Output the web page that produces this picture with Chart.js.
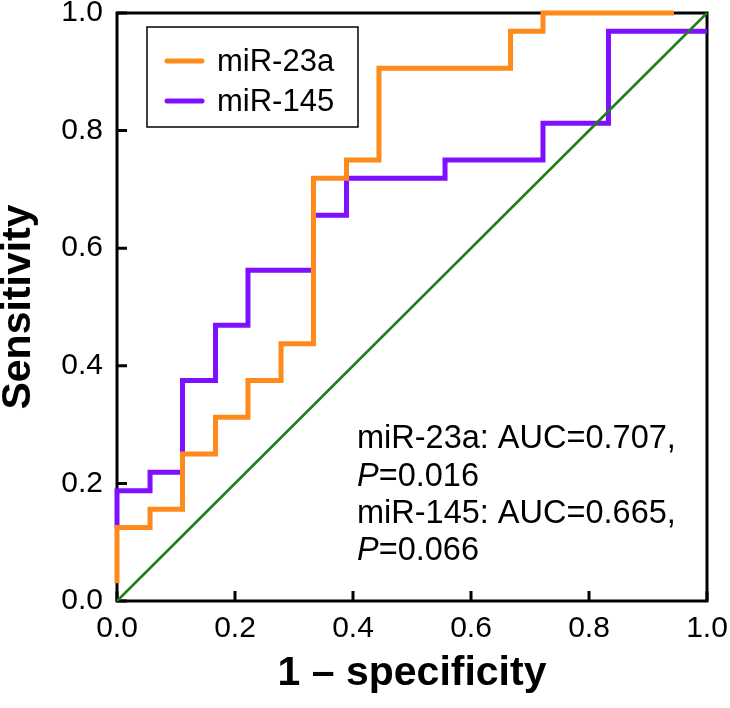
<!DOCTYPE html>
<html>
<head>
<meta charset="utf-8">
<script src="https://cdn.jsdelivr.net/npm/chart.js@4"></script>
<style>
html,body{margin:0;padding:0;background:#fff;}
#wrap{width:730px;height:708px;}
</style>
</head>
<body>
<div id="wrap"><canvas id="c" width="730" height="708"></canvas></div>
<script>
// ---- data ----
const seriesNames = ['miR-23a', 'miR-145'];
const mir23aX = [0, 0, 0.056, 0.056, 0.111, 0.111, 0.167, 0.167, 0.222, 0.222, 0.278, 0.278, 0.333, 0.333, 0.389, 0.389, 0.444, 0.444, 0.667, 0.667, 0.722, 0.722, 0.944];
const mir23aY = [0.03, 0.125, 0.125, 0.156, 0.156, 0.25, 0.25, 0.3125, 0.3125, 0.375, 0.375, 0.4375, 0.4375, 0.719, 0.719, 0.75, 0.75, 0.906, 0.906, 0.969, 0.969, 1.0, 1.0];
const mir145X = [0, 0, 0.056, 0.056, 0.111, 0.111, 0.167, 0.167, 0.222, 0.222, 0.333, 0.333, 0.389, 0.389, 0.556, 0.556, 0.722, 0.722, 0.833, 0.833, 1.0];
const mir145Y = [0.125, 0.1875, 0.1875, 0.219, 0.219, 0.375, 0.375, 0.469, 0.469, 0.5625, 0.5625, 0.656, 0.656, 0.719, 0.719, 0.75, 0.75, 0.8125, 0.8125, 0.969, 0.969];
const refX = [0, 1];
const refY = [0, 1];
const xTickLabels = ['0.0', '0.2', '0.4', '0.6', '0.8', '1.0'];
const yTickLabels = ['0.0', '0.2', '0.4', '0.6', '0.8', '1.0'];
const tickValues = [0, 0.2, 0.4, 0.6, 0.8, 1.0];
const annotationLines = [
  [{t:'miR-23a: AUC=0.707,', i:false}],
  [{t:'P', i:true}, {t:'=0.016', i:false}],
  [{t:'miR-145: AUC=0.665,', i:false}],
  [{t:'P', i:true}, {t:'=0.066', i:false}]
];

const ORANGE = '#ff8a1c';
const PURPLE = '#7f0fff';
const GREEN = '#1f7d1a';
const FONT = '"Liberation Sans", Arial, Helvetica, sans-serif';

const pts = (xs, ys) => xs.map((x, i) => ({x, y: ys[i]}));

const overlay = {
  id: 'overlay',
  beforeDatasetsDraw(chart) {
    const {ctx, chartArea: a, scales} = chart;
    ctx.save();
    ctx.strokeStyle = '#000';
    ctx.lineWidth = 3;
    ctx.strokeRect(a.left, a.top, a.right - a.left, a.bottom - a.top);
    ctx.beginPath();
    tickValues.forEach(v => {
      const x = scales.x.getPixelForValue(v);
      ctx.moveTo(x, a.bottom); ctx.lineTo(x, a.bottom - 10);
      const y = scales.y.getPixelForValue(v);
      ctx.moveTo(a.left, y); ctx.lineTo(a.left + 10, y);
    });
    ctx.stroke();
    ctx.restore();
  },
  afterDatasetsDraw(chart) {
    const {ctx} = chart;
    ctx.save();
    // legend box
    ctx.fillStyle = '#fff';
    ctx.fillRect(147, 27, 211, 100);
    ctx.strokeStyle = '#000';
    ctx.lineWidth = 1.5;
    ctx.strokeRect(147, 27, 211, 100);
    const cols = [ORANGE, PURPLE];
    const rows = [61, 101];
    seriesNames.forEach((n, i) => {
      ctx.strokeStyle = cols[i];
      ctx.lineWidth = 5;
      ctx.lineCap = 'round';
      ctx.beginPath();
      ctx.moveTo(167, rows[i]); ctx.lineTo(202, rows[i]);
      ctx.stroke();
      ctx.fillStyle = '#000';
      ctx.font = '31px ' + FONT;
      ctx.textBaseline = 'alphabetic';
      ctx.fillText(n, 217, rows[i] + 10);
    });
    // annotation
    const base = [448, 486, 523, 560];
    annotationLines.forEach((line, li) => {
      let x = 357;
      line.forEach(seg => {
        ctx.font = (seg.i ? 'italic ' : '') + '32.5px ' + FONT;
        ctx.fillStyle = '#000';
        ctx.fillText(seg.t, x, base[li]);
        x += ctx.measureText(seg.t).width;
      });
    });
    ctx.restore();
  }
};

new Chart(document.getElementById('c'), {
  type: 'scatter',
  data: {
    datasets: [
      {label: 'ref', data: pts(refX, refY), showLine: true, borderColor: GREEN, borderWidth: 2.5, pointRadius: 0, order: 0, clip: false},
      {label: seriesNames[0], data: pts(mir23aX, mir23aY), showLine: true, borderColor: ORANGE, borderWidth: 5, pointRadius: 0, order: 1, clip: false, borderJoinStyle: 'miter', borderCapStyle: 'butt'},
      {label: seriesNames[1], data: pts(mir145X, mir145Y), showLine: true, borderColor: PURPLE, borderWidth: 5, pointRadius: 0, order: 2, clip: false, borderJoinStyle: 'miter', borderCapStyle: 'butt'}
    ]
  },
  options: {
    responsive: false,
    animation: false,
    events: [],
    layout: {padding: {top: 13, right: 23, left: 0, bottom: 0}},
    plugins: {legend: {display: false}, tooltip: {enabled: false}},
    scales: {
      x: {
        type: 'linear', min: 0, max: 1,
        afterFit: s => { s.height = 107; s.paddingLeft = 0; s.paddingRight = 0; },
        afterBuildTicks: s => { s.ticks = tickValues.map(v => ({value: v})); },
        grid: {display: false, drawTicks: false},
        border: {display: false},
        ticks: {color: '#000', font: {family: FONT, size: 30}, padding: 10, maxRotation: 0,
          callback: (v) => xTickLabels[tickValues.findIndex(t => Math.abs(t - v) < 1e-6)]},
        title: {display: true, text: '1 – specificity', color: '#000', font: {family: FONT, size: 41, weight: 'bold', lineHeight: 1.2}, padding: {top: 0, bottom: 10}}
      },
      y: {
        type: 'linear', min: 0, max: 1,
        afterFit: s => { s.width = 117; s.paddingTop = 0; s.paddingBottom = 0; },
        afterBuildTicks: s => { s.ticks = tickValues.map(v => ({value: v})); },
        grid: {display: false, drawTicks: false},
        border: {display: false},
        ticks: {color: '#000', font: {family: FONT, size: 30}, padding: 14,
          callback: (v) => yTickLabels[tickValues.findIndex(t => Math.abs(t - v) < 1e-6)]},
        title: {display: true, text: 'Sensitivity', color: '#000', font: {family: FONT, size: 41, weight: 'bold', lineHeight: 0.9}, padding: {top: 0, bottom: 0}}
      }
    }
  },
  plugins: [overlay]
});
</script>
</body>
</html>
